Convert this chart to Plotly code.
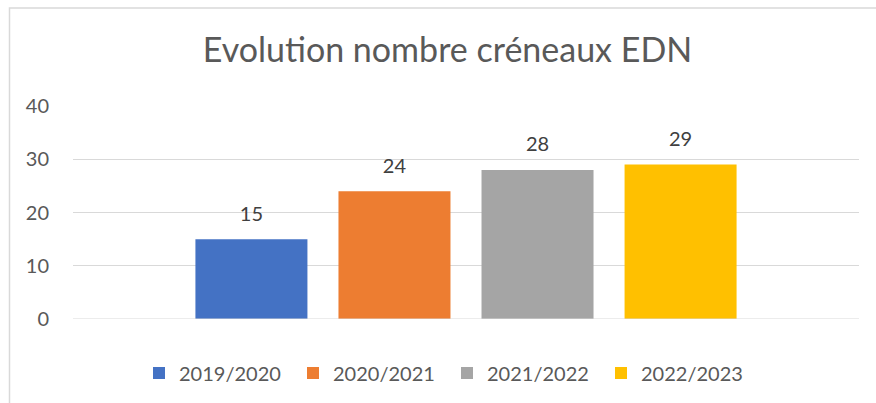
import plotly.graph_objects as go

# Data
series_names = ["2019/2020", "2020/2021", "2021/2022", "2022/2023"]
series_values = [15, 24, 28, 29]
series_colors = ["#4472C4", "#ED7D31", "#A5A5A5", "#FFC000"]
category = [""]
y_ticks = [0, 10, 20, 30, 40]
title_text = "Evolution nombre créneaux EDN"

FONT = "Lato"
FS = 20

W, H = 876, 403
L, R, T, B = 73, 17, 106, 83
pw = W - L - R
ph = H - T - B


def px_x(x):
    return (x - L) / pw


def px_y(y):
    return (H - B - y) / ph


fig = go.Figure()
for name, val, col in zip(series_names, series_values, series_colors):
    fig.add_trace(go.Bar(
        x=category, y=[val], name=name, offsetgroup=name,
        marker=dict(color=col, line=dict(width=0)),
        hoverinfo="name+y",
    ))
# data labels (aligned with the grouped bars)
for name, val in zip(series_names, series_values):
    fig.add_trace(go.Scatter(
        x=category, y=[val], offsetgroup=name, mode="markers+text",
        marker=dict(size=20, opacity=0), text=[str(val)],
        textposition="top center",
        textfont=dict(family=FONT, size=FS, color="#404040"),
        showlegend=False, hoverinfo="skip", cliponaxis=False,
    ))

fig.update_layout(
    width=W, height=H,
    margin=dict(l=L, r=R, t=T, b=B, pad=0),
    paper_bgcolor="white", plot_bgcolor="white",
    barmode="group", bargap=0.272, bargroupgap=0.217,
    scattermode="group", scattergap=0.272,
    title=dict(text=title_text, x=px_x(447.5), xref="paper", xanchor="center",
               y=1 - 50 / H, yanchor="middle",
               font=dict(family=FONT, size=34, color="#595959")),
    font=dict(family=FONT, size=FS, color="#595959"),
    showlegend=True,
    legend=dict(orientation="h", x=px_x(139), xanchor="left", y=px_y(373), yanchor="middle",
                entrywidth=109, entrywidthmode="pixels",
                font=dict(family=FONT, size=FS, color="#595959"),
                bgcolor="rgba(0,0,0,0)", itemclick=False, itemdoubleclick=False),
    xaxis=dict(showticklabels=False, showgrid=False, zeroline=False, showline=False,
               fixedrange=True),
    yaxis=dict(range=[0, 40], tickvals=y_ticks, showgrid=True, gridcolor="#D9D9D9",
               gridwidth=1, zeroline=False, showline=False, ticks="",
               ticklabelstandoff=23, fixedrange=True,
               tickfont=dict(family=FONT, size=FS, color="#595959")),
    shapes=[
        dict(type="path", xref="paper", yref="paper",
             path=f"M {px_x(9.5)} {px_y(H + 10)} L {px_x(9.5)} {px_y(7.5)} L {px_x(W + 10)} {px_y(7.5)}",
             line=dict(color="#D9D9D9", width=1.5)),
        dict(type="line", xref="paper", yref="y", x0=0, x1=1, y0=0, y1=0,
             line=dict(color="#D9D9D9", width=1), layer="above"),
    ],
)

fig.write_html("out.html", config={"displayModeBar": False},
               post_script="document.body.style.margin='0';document.body.style.overflow='hidden';")
